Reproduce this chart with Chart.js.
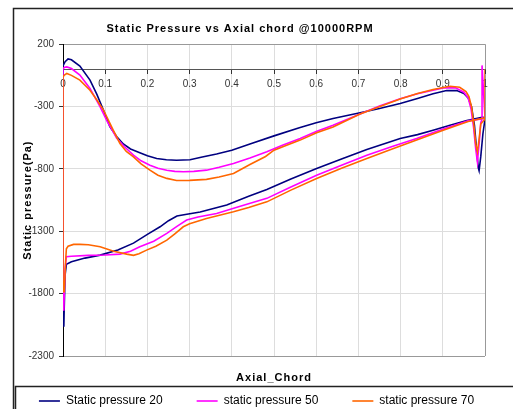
<!DOCTYPE html>
<html>
<head>
<meta charset="utf-8">
<script src="https://cdn.jsdelivr.net/npm/chart.js@4"></script>
<style>
  html, body { margin: 0; padding: 0; background: #fff; overflow: hidden; }
  #wrap { width: 513px; height: 417px; }
</style>
</head>
<body>
<div id="wrap"><canvas id="pressureChart" width="513" height="417"></canvas></div>
<script>
/* =====================================================================
   Static pressure around the blade at 10000 RPM
   Each series is a closed loop: suction side from the leading edge to
   the trailing edge, then the pressure side back to the leading edge.
======================================================================== */

const seriesNames = ["Static pressure 20", "static pressure 50", "static pressure 70"];
const seriesColors = ["#000080", "#FF00FF", "#FF6600"];

// --- Static pressure 20 ---
const chord20 = [
  0, 0.005, 0.012, 0.02, 0.04, 0.064, 0.08, 0.096, 0.111, 0.127, 0.143, 0.16, 0.182, 0.2,
  0.222, 0.245, 0.269, 0.301, 0.33, 0.364, 0.4, 0.443, 0.5, 0.56, 0.6, 0.64, 0.704, 0.75,
  0.799, 0.84, 0.877, 0.909, 0.933, 0.95, 0.96, 0.968, 0.975, 0.98, 0.984, 0.986, 0.99,
  0.995, 1.0,
  0.995, 0.957, 0.917, 0.877, 0.84, 0.799, 0.72, 0.66, 0.601, 0.54, 0.483, 0.44, 0.388,
  0.325, 0.29, 0.27, 0.25, 0.23, 0.2, 0.167, 0.13, 0.088, 0.052, 0.02, 0.008, 0.005,
  0.003, 0.002, 0, 0
];
const pressure20 = [
  25, 60, 82, 75, 25, -88, -200, -329, -460, -540, -600, -640, -670, -695,
  -716, -727, -730, -726, -705, -680, -650, -600, -535, -470, -430, -395, -350, -315,
  -275, -235, -198, -172, -172, -195, -230, -300, -450, -640, -790, -815, -700,
  -520, -400,
  -385, -412, -450, -490, -525, -556, -644, -720, -796, -880, -965, -1020, -1090,
  -1145, -1165, -1178, -1215, -1264, -1325, -1395, -1450, -1491, -1515, -1545, -1565, -1650,
  -1900, -2060, -1900, 25
];

// --- static pressure 50 ---
const chord50 = [
  0, 0.004, 0.009, 0.02, 0.04, 0.064, 0.088, 0.105, 0.119, 0.127, 0.145, 0.167, 0.185,
  0.206, 0.225, 0.246, 0.265, 0.285, 0.31, 0.34, 0.37, 0.404, 0.443, 0.483, 0.52, 0.562,
  0.6, 0.64, 0.704, 0.75, 0.799, 0.84, 0.877, 0.901, 0.93, 0.95, 0.96, 0.967, 0.973,
  0.978, 0.982, 0.986, 0.99, 0.993, 0.993, 1.0,
  0.96, 0.901, 0.838, 0.78, 0.72, 0.66, 0.601, 0.54, 0.483, 0.42, 0.364, 0.32, 0.293,
  0.27, 0.246, 0.215, 0.182, 0.16, 0.135, 0.1, 0.06, 0.02, 0.008, 0.005, 0.003, 0.002,
  0, 0
];
const pressure50 = [
  5, 15, 18, 5, -48, -155, -302, -420, -503, -553, -620, -689, -735,
  -770, -795, -810, -820, -823, -820, -810, -787, -756, -712, -663, -610, -556,
  -500, -449, -360, -295, -237, -198, -169, -150, -150, -185, -230, -320, -470,
  -640, -745, -600, -430, -400, 30, -395,
  -415, -480, -556, -620, -690, -770, -850, -945, -1036, -1100, -1157, -1185, -1210,
  -1260, -1317, -1380, -1424, -1460, -1483, -1490, -1493, -1500, -1504, -1600, -1800, -1930,
  -1700, 5
];

// --- static pressure 70 ---
const chord70 = [
  0, 0.004, 0.009, 0.02, 0.04, 0.064, 0.08, 0.096, 0.119, 0.135, 0.15, 0.167, 0.185,
  0.206, 0.225, 0.246, 0.269, 0.3, 0.34, 0.37, 0.404, 0.443, 0.48, 0.5, 0.53, 0.562,
  0.601, 0.64, 0.704, 0.759, 0.799, 0.84, 0.877, 0.917, 0.94, 0.955, 0.962, 0.968,
  0.973, 0.978, 0.982, 0.986, 0.99, 1.0, 1.0, 1.0,
  0.96, 0.901, 0.838, 0.78, 0.72, 0.66, 0.601, 0.54, 0.483, 0.44, 0.404, 0.34, 0.3,
  0.285, 0.265, 0.246, 0.22, 0.198, 0.18, 0.167, 0.151, 0.12, 0.088, 0.06, 0.04, 0.025,
  0.012, 0.008, 0.006, 0.004, 0.003, 0, 0
];
const pressure70 = [
  -62, -45, -35, -50, -88, -169, -245, -329, -489, -596, -660, -703, -760,
  -810, -850, -876, -893, -892, -884, -865, -836, -765, -700, -650, -610, -569,
  -510, -463, -360, -289, -240, -195, -163, -137, -145, -180, -220, -300,
  -430, -600, -663, -560, -440, -400, 0, -390,
  -420, -489, -569, -640, -716, -795, -876, -970, -1064, -1110, -1144, -1197, -1240,
  -1264, -1320, -1371, -1420, -1451, -1480, -1493, -1483, -1460, -1424, -1408, -1405, -1405,
  -1420, -1440, -1550, -1700, -1785, -1785, -62
];

// axis ticks
const xTickStep = 0.1;
const yTickStep = 500;
const yMin = -2300;
const yMax = 200;

const chordSets = [chord20, chord50, chord70];
const pressureSets = [pressure20, pressure50, pressure70];

const FONT = "Arial, 'Liberation Sans', sans-serif";

/* ============================================================
   Frame round the chart and the legend box (Excel look)
   ============================================================ */
const framePlugin = {
  id: "frame",
  beforeDraw(chart) {
    const c = chart.ctx;
    c.save();
    c.strokeStyle = "#222";
    c.lineWidth = 1.5;
    c.beginPath();
    c.moveTo(13.5, 460); c.lineTo(13.5, 8.5); c.lineTo(520, 8.5);
    c.moveTo(15.5, 460); c.lineTo(15.5, 386.5); c.lineTo(520, 386.5);
    c.stroke();
    c.restore();
  }
};

/* ============================================================
   Spaced-out bold titles, as Excel draws them
   ============================================================ */
function spaced(fn, c, shiftX) {
  return function () {
    c.save();
    c.letterSpacing = "1px";
    if (shiftX) c.translate(shiftX, 0);
    fn.apply(this, arguments);
    c.restore();
  };
}

const spacingPlugin = {
  id: "spacing",
  afterUpdate(chart) {
    if (chart.$spaced) return;
    chart.$spaced = true;
    const c = chart.ctx;
    if (chart.titleBlock) chart.titleBlock.draw = spaced(chart.titleBlock.draw, c, -16.5);
    ["y", "x2"].forEach(id => {
      const s = chart.scales[id];
      if (s) s.drawTitle = spaced(s.drawTitle, c, 0);
    });
  }
};

const datasets = seriesNames.map((name, i) => ({
  label: name,
  data: chordSets[i].map((x, j) => ({ x, y: pressureSets[i][j] })),
  xAxisID: "x",
  yAxisID: "y",
  borderColor: seriesColors[i],
  backgroundColor: seriesColors[i],
  borderWidth: 1.6,
  showLine: true,
  fill: false,
  tension: 0,
  pointRadius: 0,
  pointStyle: "line",
  order: seriesNames.length - i   // orange on top, like the original
}));

// empty axes only used to reserve space
const spacer = {
  type: "linear",
  display: true,
  ticks: { display: false },
  grid: { display: false, drawTicks: false },
  border: { display: false }
};

const ctx = document.getElementById("pressureChart").getContext("2d");

new Chart(ctx, {
  type: "scatter",
  data: { datasets },
  plugins: [framePlugin, spacingPlugin],
  options: {
    responsive: false,
    animation: false,
    layout: { padding: { left: 0, right: 0, top: 10, bottom: 0 } },
    plugins: {
      tooltip: { enabled: false },
      title: {
        display: true,
        text: "Static Pressure vs Axial chord @10000RPM",
        color: "#000",
        font: { family: FONT, size: 11, weight: "bold" },
        padding: { top: 12, bottom: 9 }
      },
      legend: {
        position: "bottom",
        labels: {
          usePointStyle: true,
          pointStyle: "line",
          pointStyleWidth: 21,
          color: "#000",
          font: { family: FONT, size: 12 },
          padding: 34,
          sort: (a, b) => a.datasetIndex - b.datasetIndex
        }
      }
    },
    scales: {
      x: {
        type: "linear",
        position: { y: 0 },
        min: 0,
        max: 1,
        ticks: {
          stepSize: xTickStep,
          color: "#333",
          font: { family: FONT, size: 10 },
          padding: 5,
          callback: (v) => String(Math.round(v * 10) / 10)
        },
        grid: {
          color: (c) => (c.tick && c.tick.value === 1 ? "#999" : "#ddd"),
          tickColor: "#333",
          tickLength: 4
        },
        border: { color: "#555", width: 1 }
      },
      y: {
        type: "linear",
        min: yMin,
        max: yMax,
        ticks: {
          stepSize: yTickStep,
          color: "#333",
          font: { family: FONT, size: 10 },
          padding: 5,
          callback: (v) => String(v)
        },
        grid: {
          color: (c) => (c.tick && (c.tick.value === yMax || c.tick.value === yMin) ? "#999" : "#ddd"),
          tickColor: "#333",
          tickLength: 4
        },
        border: { color: "#000", width: 1 },
        title: {
          display: true,
          text: "Static pressure(Pa)",
          color: "#000",
          font: { family: FONT, size: 11, weight: "bold" },
          padding: { top: 21, bottom: 2 }
        },
        afterFit(scale) { scale.width = 63; }
      },
      x2: {
        ...spacer,
        position: "bottom",
        title: {
          display: true,
          text: "Axial_Chord",
          color: "#000",
          font: { family: FONT, size: 11, weight: "bold" },
          padding: { top: 0, bottom: -23.6 }
        },
        afterFit(scale) { scale.height = 5; }
      },
      y2: {
        ...spacer,
        position: "right",
        afterFit(scale) { scale.width = 28; }
      }
    }
  }
});
</script>
</body>
</html>
